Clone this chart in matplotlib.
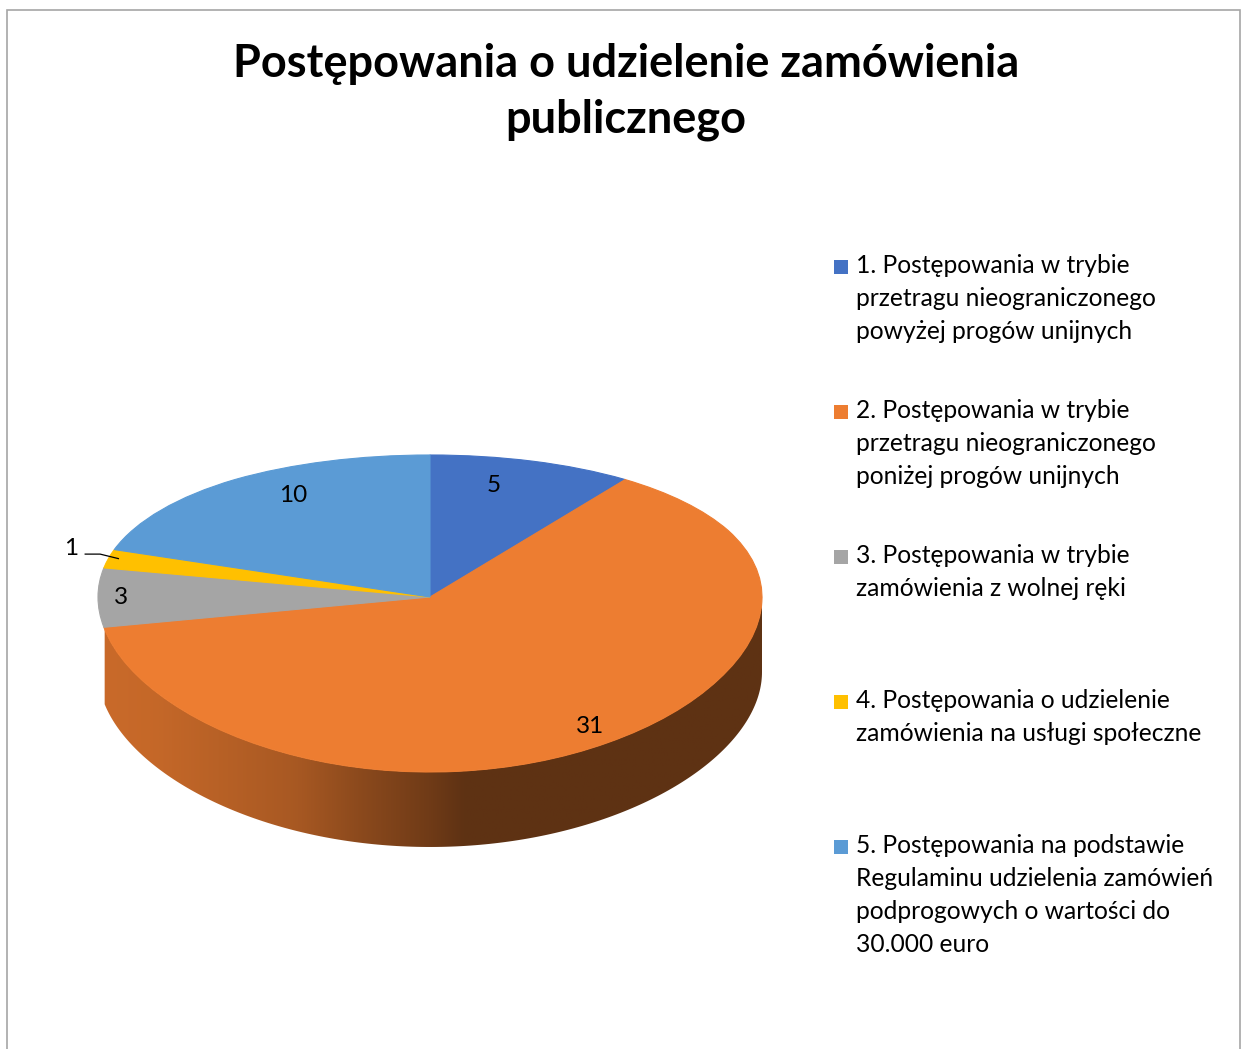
import numpy as np
import matplotlib
matplotlib.use("Agg")
import matplotlib.pyplot as plt
from matplotlib.patches import Polygon, Rectangle
from matplotlib.colors import LinearSegmentedColormap, to_rgb

# ---------------- data ----------------
values = [5, 31, 3, 1, 10]
legend_labels = [
    "1. Postępowania w trybie\nprzetragu nieograniczonego\npowyżej progów unijnych",
    "2. Postępowania w trybie\nprzetragu nieograniczonego\nponiżej progów unijnych",
    "3. Postępowania w trybie\nzamówienia z wolnej ręki",
    "4. Postępowania o udzielenie\nzamówienia na usługi społeczne",
    "5. Postępowania na podstawie\nRegulaminu udzielenia zamówień\npodprogowych o wartości do\n30.000 euro",
]
colors = ["#4472C4", "#ED7D31", "#A5A5A5", "#FFC000", "#5B9BD5"]
title = "Postępowania o udzielenie zamówienia\npublicznego"

# ---------------- style ----------------
plt.rcParams['font.family'] = ['Lato', 'DejaVu Sans']
W, H = 1241, 1049
fig = plt.figure(figsize=(W / 100, H / 100), dpi=100)

# chart border
fig.add_artist(Rectangle((7 / W, -0.01), (1239.5 - 7) / W, (H - 10) / H + 0.01,
                         transform=fig.transFigure, fill=False,
                         edgecolor="#A6A6A6", linewidth=1.2))

fig.text(626 / W, 1 - 92 / H, title, ha="center", va="center",
         fontsize=32.5, fontweight="bold", linespacing=1.38, color="black")

# perspective-like vertical scale (top half compressed)
A = 0.104
def fwd(y):
    y = np.asarray(y, dtype=float)
    return y - A * y ** 2
def inv(u):
    u = np.asarray(u, dtype=float)
    return (1 - np.sqrt(np.clip(1 - 4 * A * u, 0, None))) / (2 * A)

cx, cy = 430.0, 597.0      # pixel centre
sx, sy = 332.0, 158.5      # pixels per unit
depth_px = 75.0
ax_l, ax_r, ax_t, ax_b = 40.0, 820.0, 420.0, 890.0

ax = fig.add_axes([ax_l / W, (H - ax_b) / H, (ax_r - ax_l) / W, (ax_b - ax_t) / H])
wedges, _ = ax.pie(values, colors=colors, startangle=90, counterclock=False,
                   radius=1, wedgeprops=dict(linewidth=0.8))
for w in wedges:
    w.set_edgecolor(w.get_facecolor())
    w.set_zorder(3)

ax.set_yscale('function', functions=(fwd, inv))

# slice angles from data
total = float(sum(values))
cum = np.concatenate([[0], np.cumsum(values)])
starts = 90 - 360 * cum[:-1] / total
ends = 90 - 360 * cum[1:] / total

# shading along x for side wall
shade_x = [-1.0, -0.83, -0.41, -0.2, 0.0, 0.1, 1.0]
shade_f = [0.85, 0.83, 0.71, 0.58, 0.47, 0.40, 0.40]
vis_lo, vis_hi = -168.5, 0.0   # visible front arc (perspective hides far left sliver)

def wall_bottom(y_top):
    return inv(fwd(y_top) - depth_px / sy)

for s, e, col in zip(starts, ends, colors):
    for shift in (0, -360, 360):
        a0 = max(e + shift, vis_lo)
        a1 = min(s + shift, vis_hi)
        if a1 - a0 <= 0.01:
            continue
        th = np.radians(np.linspace(a0, a1, 200))
        xt, yt = np.cos(th), np.sin(th)
        yb = wall_bottom(yt)
        pts = np.column_stack([np.concatenate([xt, xt[::-1]]),
                               np.concatenate([yt, yb[::-1]])])
        poly = Polygon(pts, closed=True, facecolor="none", edgecolor="none",
                       transform=ax.transData)
        ax.add_patch(poly)
        base = np.array(to_rgb(col))
        xs = np.linspace(-1, 1, 256)
        f = np.interp(xs, shade_x, shade_f)
        cmap = LinearSegmentedColormap.from_list(
            "w", [tuple(base * fi) for fi in f], N=256)
        im = ax.imshow(np.linspace(0, 1, 256)[None, :], cmap=cmap, aspect='auto',
                       extent=(-1, 1, float(wall_bottom(np.array(-1.0))) - 0.05, 0.05),
                       interpolation='bilinear', zorder=1)
        im.set_clip_path(poly)

ax.set_aspect('auto')
ax.set_xlim((ax_l - cx) / sx, (ax_r - cx) / sx)
ax.set_ylim(float(inv((cy - ax_b) / sy)), float(inv((cy - ax_t) / sy)))
ax.axis('off')

# data labels
mids = np.radians((starts + ends) / 2)
label_r = [(0.62, 0.80), (0.90, 0.90), (0.93, 0.93), None, (0.70, 0.85)]
for i, (v, m, r) in enumerate(zip(values, mids, label_r)):
    if r is None:
        continue
    ax.text(r[0] * np.cos(m), r[1] * np.sin(m), str(v), ha="center", va="center",
            fontsize=17.5, color="black", zorder=5)

# small slice with leader line
i_small = 3
m = mids[i_small]
ex, ey = np.cos(m), np.sin(m)
ax.plot([ex - 0.07, ex - 0.025, ex + 0.03], [ey + 0.03, ey + 0.03, ey + 0.0],
        color="black", lw=0.9, zorder=6, clip_on=False)
ax.text(ex - 0.09, ey + 0.065, str(values[i_small]), ha="right", va="center",
        fontsize=17.5, color="black", zorder=5, clip_on=False)

# legend (manual, evenly spaced entries)
leg_x_box = 834
leg_x_text = 856
leg_y0 = 267
leg_step = 145
for k, (lab, col) in enumerate(zip(legend_labels, colors)):
    yc = leg_y0 + k * leg_step
    fig.add_artist(Rectangle((leg_x_box / W, 1 - (yc + 7) / H), 14 / W, 14 / H,
                             transform=fig.transFigure, facecolor=col,
                             edgecolor="none"))
    fig.text(leg_x_text / W, 1 - (yc - 13) / H, lab, ha="left", va="top",
             fontsize=17.7, linespacing=1.53, color="black")

fig.savefig("out.png", dpi=100)
